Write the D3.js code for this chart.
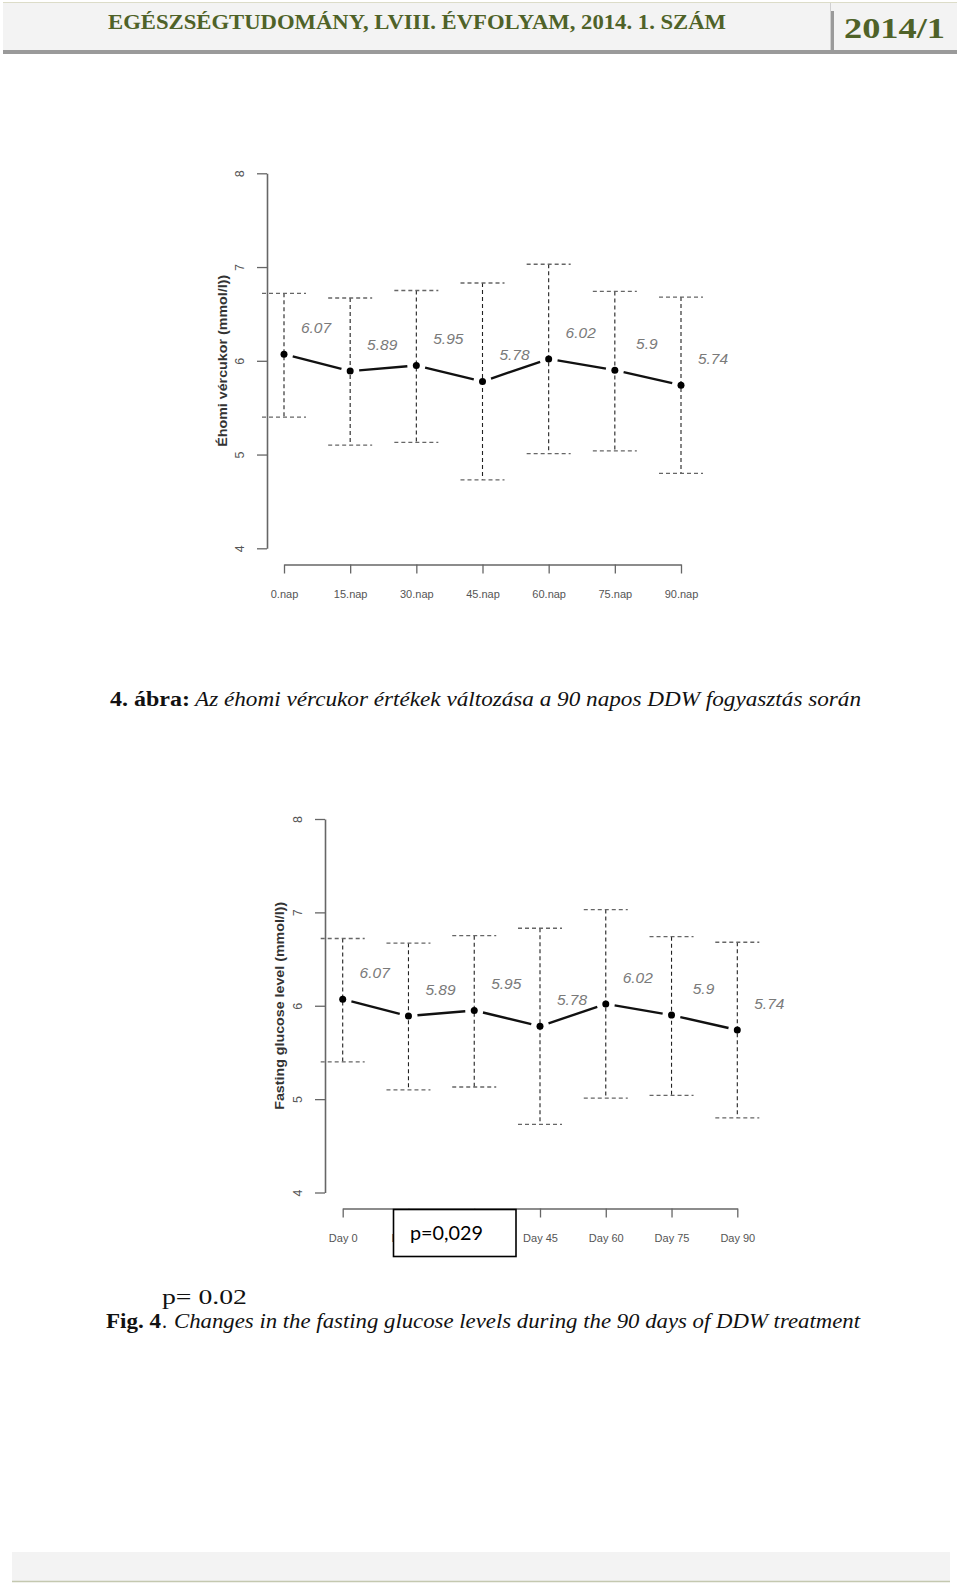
<!DOCTYPE html>
<html>
<head>
<meta charset="utf-8">
<script src="https://cdn.jsdelivr.net/npm/d3@7"></script>
<style>
  html, body { margin: 0; padding: 0; background: #fff; }
  svg { display: block; }
</style>
</head>
<body>
<div id="chart"></div>
<script>
// ---------- data ----------
const categoriesHu = ["0.nap", "15.nap", "30.nap", "45.nap", "60.nap", "75.nap", "90.nap"];
const categoriesEn = ["Day 0", "Day 15", "Day 30", "Day 45", "Day 60", "Day 75", "Day 90"];
const means = [6.07, 5.89, 5.95, 5.78, 6.02, 5.9, 5.74];
const meanLabels = ["6.07", "5.89", "5.95", "5.78", "6.02", "5.9", "5.74"];
const upper = [6.72, 6.67, 6.75, 6.83, 7.03, 6.74, 6.68];
const lower = [5.40, 5.10, 5.13, 4.73, 5.01, 5.04, 4.80];
const yTicks = [4, 5, 6, 7, 8];
const yTitleHu = "Éhomi vércukor (mmol/l))";
const yTitleEn = "Fasting glucose level (mmol/l))";

// ---------- page ----------
const W = 960, H = 1590;
const svg = d3.select("#chart").append("svg").attr("width", W).attr("height", H);

// header
svg.append("line").attr("x1", 3).attr("x2", 957).attr("y1", 2.5).attr("y2", 2.5)
  .attr("stroke", "#dcdcc8").attr("stroke-width", 1);
svg.append("rect").attr("x", 3).attr("y", 3).attr("width", 954).attr("height", 47).attr("fill", "#f3f3f3");
svg.append("rect").attr("x", 3).attr("y", 50).attr("width", 954).attr("height", 4).attr("fill", "#9a9a9a");
svg.append("line").attr("x1", 830.5).attr("x2", 830.5).attr("y1", 3).attr("y2", 50)
  .attr("stroke", "#d0d0d0").attr("stroke-width", 1);
svg.append("rect").attr("x", 831).attr("y", 11).attr("width", 3).attr("height", 39).attr("fill", "#9a9a9a");
svg.append("text").attr("x", 108).attr("y", 29)
  .attr("font-family", "Liberation Serif, serif").attr("font-weight", "bold").attr("font-size", 22)
  .attr("fill", "#4f6228").attr("textLength", 618).attr("lengthAdjust", "spacingAndGlyphs")
  .text("EGÉSZSÉGTUDOMÁNY, LVIII. ÉVFOLYAM, 2014. 1. SZÁM");
svg.append("text").attr("x", 844).attr("y", 38)
  .attr("font-family", "Liberation Serif, serif").attr("font-weight", "bold").attr("font-size", 29)
  .attr("fill", "#4f6228").attr("textLength", 101).attr("lengthAdjust", "spacingAndGlyphs")
  .text("2014/1");

// footer
svg.append("rect").attr("x", 12).attr("y", 1552).attr("width", 938).attr("height", 29).attr("fill", "#f3f3f3");
svg.append("line").attr("x1", 12).attr("x2", 950).attr("y1", 1581.5).attr("y2", 1581.5)
  .attr("stroke", "#c4c8b0").attr("stroke-width", 1.5);

// ---------- chart drawing ----------
function drawChart(cfg) {
  const g = svg.append("g");
  const x = d3.scalePoint().domain(cfg.cats).range(cfg.xRange);
  const y = d3.scaleLinear().domain([4, 8]).range(cfg.yRange);
  const font = "Liberation Sans, Arial, sans-serif";

  // y axis
  const ya = g.append("g").attr("transform", `translate(${cfg.yAxisX},0)`)
    .call(d3.axisLeft(y).tickValues(yTicks).tickSize(10).tickSizeOuter(0).tickFormat(d3.format("d")));
  ya.select(".domain").attr("stroke", "#666").attr("stroke-width", 1.6);
  ya.selectAll(".tick line").attr("stroke", "#666").attr("stroke-width", 1.3);
  ya.selectAll(".tick text")
    .attr("x", null).attr("dy", null)
    .attr("transform", "translate(-23,0) rotate(-90)")
    .attr("text-anchor", "middle")
    .attr("font-family", font).attr("font-size", 12.5).attr("fill", "#555");

  // x axis
  const xa = g.append("g").attr("transform", `translate(0,${cfg.xAxisY})`)
    .call(d3.axisBottom(x).tickSize(9).tickSizeOuter(0));
  xa.select(".domain").attr("stroke", "#666").attr("stroke-width", 1.6);
  xa.selectAll(".tick line").attr("stroke", "#666").attr("stroke-width", 1.3);
  xa.selectAll(".tick text")
    .attr("y", 33).attr("dy", null)
    .attr("font-family", font).attr("font-size", 11).attr("fill", "#555");

  // y title
  const mid = (cfg.yRange[0] + cfg.yRange[1]) / 2;
  g.append("text")
    .attr("transform", `translate(${cfg.titleX},${mid}) rotate(-90)`)
    .attr("text-anchor", "middle")
    .attr("font-family", font).attr("font-weight", "bold").attr("font-size", 12.5)
    .attr("fill", "#333")
    .attr("textLength", cfg.titleLen).attr("lengthAdjust", "spacingAndGlyphs")
    .text(cfg.title);

  const data = cfg.cats.map((c, i) => ({ c, m: means[i], lab: meanLabels[i], hi: upper[i], lo: lower[i] }));

  // error bars: vertical dashed
  g.selectAll(".ev").data(data).join("line")
    .attr("x1", d => x(d.c)).attr("x2", d => x(d.c))
    .attr("y1", d => y(d.hi)).attr("y2", d => y(d.lo))
    .attr("stroke", "#222").attr("stroke-width", 1.1).attr("stroke-dasharray", "4,3");
  // caps
  const capW = 22;
  g.selectAll(".ct").data(data).join("line")
    .attr("x1", d => x(d.c) - capW).attr("x2", d => x(d.c) + capW)
    .attr("y1", d => y(d.hi)).attr("y2", d => y(d.hi))
    .attr("stroke", "#666").attr("stroke-width", 1.3).attr("stroke-dasharray", "4,3");
  g.selectAll(".cb").data(data).join("line")
    .attr("x1", d => x(d.c) - capW).attr("x2", d => x(d.c) + capW)
    .attr("y1", d => y(d.lo)).attr("y2", d => y(d.lo))
    .attr("stroke", "#666").attr("stroke-width", 1.3).attr("stroke-dasharray", "4,3");

  // connecting line segments with gaps (type "b")
  const segs = d3.pairs(data);
  const gap = 9;
  g.selectAll(".seg").data(segs).join("line")
    .each(function([a, b]) {
      const x1 = x(a.c), y1 = y(a.m), x2 = x(b.c), y2 = y(b.m);
      const len = Math.hypot(x2 - x1, y2 - y1);
      const ux = (x2 - x1) / len, uy = (y2 - y1) / len;
      d3.select(this)
        .attr("x1", x1 + ux * gap).attr("y1", y1 + uy * gap)
        .attr("x2", x2 - ux * gap).attr("y2", y2 - uy * gap);
    })
    .attr("stroke", "#111").attr("stroke-width", 2.4);

  // points
  g.selectAll(".pt").data(data).join("circle")
    .attr("cx", d => x(d.c)).attr("cy", d => y(d.m)).attr("r", 3.5).attr("fill", "#000");

  // value labels
  g.selectAll(".vl").data(data).join("text")
    .attr("x", d => x(d.c) + 32).attr("y", d => y(d.m) - 21)
    .attr("text-anchor", "middle")
    .attr("font-family", font).attr("font-style", "italic").attr("font-size", 15.5)
    .attr("fill", "#7a7a7a")
    .text(d => d.lab);
  return g;
}

drawChart({
  cats: categoriesHu, xRange: [284, 681], yRange: [548.3, 173.3],
  yAxisX: 267, xAxisY: 564.5, titleX: 226.5, titleLen: 172, title: yTitleHu
});

drawChart({
  cats: categoriesEn, xRange: [342.7, 737.3], yRange: [1192.5, 819],
  yAxisX: 325, xAxisY: 1208.5, titleX: 283.5, titleLen: 208, title: yTitleEn
});

// p-value box over chart 2 axis (covers the Day 15 / Day 30 labels as in the original)
svg.append("rect").attr("x", 393.5).attr("y", 1209.5).attr("width", 122.5).attr("height", 47)
  .attr("fill", "#fff").attr("stroke", "#000").attr("stroke-width", 1.6);
svg.append("text").attr("x", 410).attr("y", 1240)
  .attr("font-family", "Lato, Liberation Sans, sans-serif").attr("font-size", 20).attr("fill", "#000")
  .attr("textLength", 73).attr("lengthAdjust", "spacingAndGlyphs")
  .text("p=0,029");

// captions
const serif = "Liberation Serif, DejaVu Serif, serif";
svg.append("text").attr("x", 110).attr("y", 706)
  .attr("font-family", serif).attr("font-weight", "bold").attr("font-size", 20).attr("fill", "#111")
  .attr("textLength", 80).attr("lengthAdjust", "spacingAndGlyphs").text("4. ábra:");
svg.append("text").attr("x", 195).attr("y", 706)
  .attr("font-family", serif).attr("font-style", "italic").attr("font-size", 20).attr("fill", "#111")
  .attr("textLength", 666).attr("lengthAdjust", "spacingAndGlyphs")
  .text("Az éhomi vércukor értékek változása a 90 napos DDW fogyasztás során");

svg.append("text").attr("x", 162).attr("y", 1304)
  .attr("font-family", serif).attr("font-size", 22).attr("fill", "#111")
  .attr("textLength", 85).attr("lengthAdjust", "spacingAndGlyphs").text("p= 0.02");

svg.append("text").attr("x", 106).attr("y", 1328)
  .attr("font-family", serif).attr("font-weight", "bold").attr("font-size", 20).attr("fill", "#111")
  .attr("textLength", 55).attr("lengthAdjust", "spacingAndGlyphs").text("Fig. 4");
svg.append("text").attr("x", 162).attr("y", 1328)
  .attr("font-family", serif).attr("font-size", 20).attr("fill", "#111").text(".");
svg.append("text").attr("x", 174).attr("y", 1328)
  .attr("font-family", serif).attr("font-style", "italic").attr("font-size", 20).attr("fill", "#111")
  .attr("textLength", 686).attr("lengthAdjust", "spacingAndGlyphs")
  .text("Changes in the fasting glucose levels during the 90 days of DDW treatment");
</script>
</body>
</html>
